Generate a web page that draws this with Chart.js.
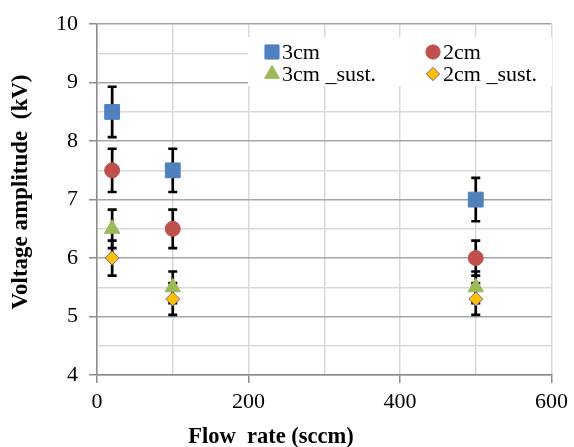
<!DOCTYPE html>
<html>
<head>
<meta charset="utf-8">
<title>Voltage amplitude vs flow rate</title>
<script src="https://cdn.jsdelivr.net/npm/chart.js@4.4.1/dist/chart.umd.min.js"></script>
<style>
    html, body { margin: 0; padding: 0; background: #ffffff; }
    #wrap { width: 574px; height: 447px; position: relative; }
</style>
</head>
<body>
<div id="wrap"><canvas id="voltageChart" width="574" height="447"></canvas></div>
<script>
// Flow rates (sccm) on the x axis
const flowRates = [20, 100, 500];

// Voltage amplitude (kV) per series
const v3cm = [8.5, 7.5, 7.0];
const v2cm = [7.5, 6.5, 6.0];
const v3cmSust = [6.5, 5.5, 5.5];
const v2cmSust = [6.0, 5.3, 5.3];

// Error bar half-widths (kV)
const err3cm = [0.43, 0.37, 0.37];
const err2cm = [0.37, 0.33, 0.3];
const err3cmSust = [0.33, 0.27, 0.27];
const err2cmSust = [0.3, 0.27, 0.27];

// Axis ticks
const xTickLabels = [0, 200, 400, 600];
const yTickLabels = [4, 5, 6, 7, 8, 9, 10];

const seriesNames = ['3cm', '2cm', '3cm _sust.', '2cm _sust.'];

const SERIF = '"Liberation Serif", "Times New Roman", serif';

document.addEventListener('DOMContentLoaded', () => {
    const ctx = document.getElementById('voltageChart').getContext('2d');

    const toPoints = (ys) => flowRates.map((x, i) => ({ x: x, y: ys[i] }));

    // marker styles per series
    const styles = [
        { pointStyle: 'rect', radius: 10.5, bg: '#4F81BD', border: '#4F81BD' },
        { pointStyle: 'circle', radius: 7.5, bg: '#C0504D', border: '#C0504D' },
        { pointStyle: 'triangle', radius: 9, bg: '#9BBB59', border: '#9BBB59' },
        { pointStyle: 'rectRot', radius: 7, bg: '#FFC000', border: '#8064A2' }
    ];
    const values = [v3cm, v2cm, v3cmSust, v2cmSust];
    const errors = [err3cm, err2cm, err3cmSust, err2cmSust];

    const datasets = values.map((vals, i) => ({
        label: seriesNames[i],
        data: toPoints(vals),
        errors: errors[i],
        showLine: false,
        pointStyle: styles[i].pointStyle,
        pointRadius: styles[i].radius,
        pointHoverRadius: styles[i].radius,
        backgroundColor: styles[i].bg,
        borderColor: styles[i].border,
        pointBorderWidth: 1,
        order: 3 - i  // later series on top
    }));

    // Error bars, drawn under the markers
    const errorBarPlugin = {
        id: 'errorBars',
        beforeDatasetsDraw(chart) {
            const c = chart.ctx;
            const yScale = chart.scales.y;
            c.save();
            c.strokeStyle = '#000000';
            c.lineWidth = 2.7;
            chart.data.datasets.forEach((ds, di) => {
                const meta = chart.getDatasetMeta(di);
                meta.data.forEach((pt, i) => {
                    const e = ds.errors[i];
                    const v = ds.data[i].y;
                    const top = yScale.getPixelForValue(v + e);
                    const bottom = yScale.getPixelForValue(v - e);
                    const x = pt.x;
                    c.beginPath();
                    c.moveTo(x, top);
                    c.lineTo(x, bottom);
                    c.moveTo(x - 4.5, top);
                    c.lineTo(x + 4.5, top);
                    c.moveTo(x - 4.5, bottom);
                    c.lineTo(x + 4.5, bottom);
                    c.stroke();
                });
            });
            c.restore();
        }
    };

    // Legend box inside the plot and the axis titles
    const decorPlugin = {
        id: 'decor',
        afterDraw(chart) {
            const c = chart.ctx;
            c.save();
            c.fillStyle = '#ffffff';
            c.fillRect(248, 37, 304, 49);

            const items = [
                { x: 272, y: 52 }, { x: 433, y: 52 },
                { x: 272, y: 74 }, { x: 433, y: 74 }
            ];
            c.font = '22px ' + SERIF;
            c.textBaseline = 'middle';
            c.textAlign = 'left';
            items.forEach((it, i) => {
                c.fillStyle = styles[i].bg;
                c.strokeStyle = styles[i].border;
                c.lineWidth = 1;
                Chart.helpers.drawPoint(c, {
                    pointStyle: styles[i].pointStyle,
                    radius: styles[i].radius * 0.95,
                    rotation: 0,
                    borderWidth: 1
                }, it.x, it.y);
                c.fillStyle = '#000000';
                c.fillText(seriesNames[i], it.x + 10, it.y + 1);
            });

            // axis titles
            c.fillStyle = '#000000';
            c.font = 'bold 22.5px ' + SERIF;
            c.textAlign = 'center';
            c.textBaseline = 'alphabetic';
            c.fillText('Flow  rate (sccm)', 271, 443);

            c.font = 'bold 23px ' + SERIF;
            c.translate(21, 192);
            c.rotate(-Math.PI / 2);
            c.textBaseline = 'middle';
            c.fillText('Voltage amplitude  (kV)', 0, 0);
            c.restore();
        }
    };

    new Chart(ctx, {
        type: 'scatter',
        data: { datasets: datasets },
        options: {
            responsive: false,
            animation: false,
            events: [],
            layout: { padding: { left: 0, top: 23, right: 21, bottom: 0 } },
            plugins: {
                legend: { display: false },
                tooltip: { enabled: false }
            },
            scales: {
                x: {
                    type: 'linear',
                    min: 0,
                    max: 600,
                    afterFit: (scale) => { scale.height = 72; },
                    ticks: {
                        stepSize: 100,
                        autoSkip: false,
                        maxRotation: 0,
                        padding: 6,
                        color: '#000000',
                        font: { family: SERIF, size: 22 },
                        callback: (v) => xTickLabels.includes(v) ? String(v) : ''
                    },
                    grid: {
                        color: '#d9d9d9',
                        lineWidth: 1.5,
                        tickLength: 8,
                        tickColor: (c) => xTickLabels.includes(c.tick.value) ? '#8c8c8c' : 'rgba(0,0,0,0)'
                    },
                    border: { color: '#8c8c8c', width: 1.5 }
                },
                y: {
                    type: 'linear',
                    min: 4,
                    max: 10,
                    afterFit: (scale) => { scale.width = 97; },
                    ticks: {
                        stepSize: 0.5,
                        autoSkip: false,
                        padding: 11,
                        color: '#000000',
                        font: { family: SERIF, size: 22 },
                        callback: (v) => yTickLabels.includes(v) ? String(v) : ''
                    },
                    grid: {
                        color: (c) => Number.isInteger(c.tick.value) ? '#a6a6a6' : '#d9d9d9',
                        lineWidth: 1.5,
                        tickLength: 8,
                        tickColor: (c) => Number.isInteger(c.tick.value) ? '#8c8c8c' : 'rgba(0,0,0,0)'
                    },
                    border: { color: '#8c8c8c', width: 1.5 }
                }
            }
        },
        plugins: [errorBarPlugin, decorPlugin]
    });
});
</script>
</body>
</html>
